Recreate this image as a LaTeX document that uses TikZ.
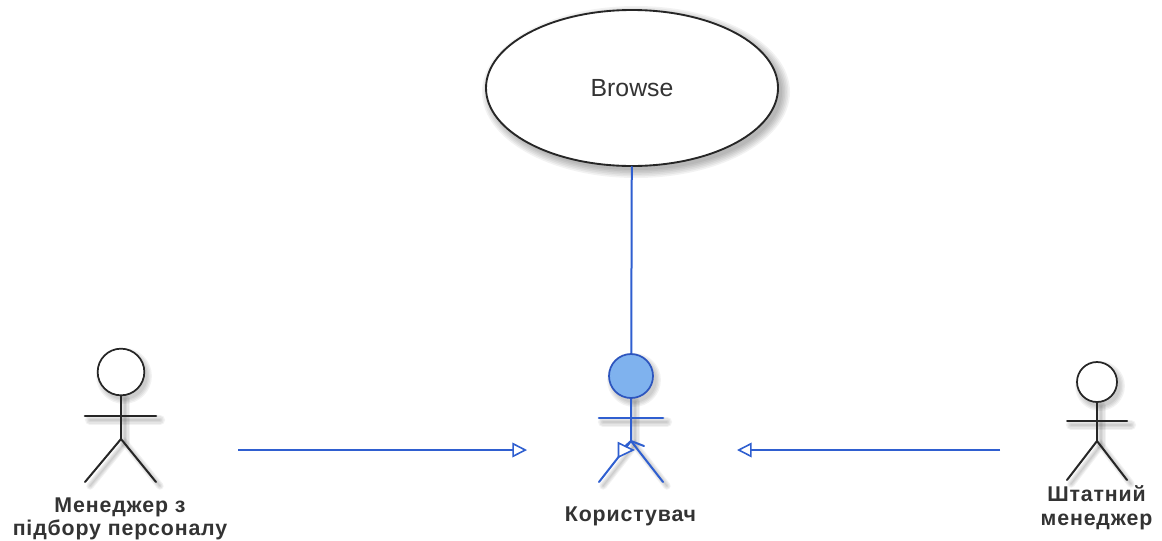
\documentclass[tikz,border=0pt]{standalone}
\usepackage{fontspec}
\setmainfont{Liberation Sans}
\newfontfamily\labelfont[LetterSpace=4,BoldFont={Liberation Sans Bold}]{Liberation Sans}
\usetikzlibrary{shapes.geometric,arrows.meta}
\definecolor{umlblue}{HTML}{2F5FD0}
\definecolor{headblue}{HTML}{7FB2EE}
\definecolor{headedge}{HTML}{2D55BE}
\definecolor{inkline}{HTML}{262626}
\definecolor{labelink}{HTML}{333333}
\tikzset{
  usecase/.style={ellipse,draw=inkline,line width=1.4pt,fill=white,minimum width=219pt,minimum height=117pt,inner sep=0pt,text=labelink,font=\fontsize{18.6}{21}\selectfont},
  headnode/.style={circle,line width=1.3pt,inner sep=0pt},
  limb/.style={line width=1.5pt,line cap=round},
  actorlabel/.style={align=center,text=labelink,font=\labelfont\bfseries\fontsize{16}{16.5}\selectfont,inner sep=0pt},
  gen/.style={umlblue,line width=1.5pt,-{Triangle[open,length=11pt,width=11pt,line width=1.2pt]}},
  softshadow/.style={black,opacity=0.05},
}
\newcommand{\actorshadow}[7]{%
  \foreach \w in {7,5,3,1}{
    \fill[softshadow] (#1+3,#2+4) circle[radius=#3+\w*0.7];
    \draw[softshadow,line width=\w*1.1pt,line cap=round] (#1-#4+4,#5+4) -- (#1+#4+4,#5+4);
    \draw[softshadow,line width=\w*1.1pt,line cap=round] (#1+4,#2+#3+4) -- (#1+4,#6+4);
    \draw[softshadow,line width=\w*0.8pt,line cap=round] (#1-#4+4,#7+4) -- (#1+4,#6+4) -- (#1+#4+4,#7+4);
  }%
}
\begin{document}
\begin{tikzpicture}[x=0.75pt,y=-0.75pt]
\useasboundingbox (0,0) rectangle (1162,540);
\fill[white] (0,0) rectangle (1162,540);

% shadows
\foreach \w in {10,8,6,4,2,0}{
  \fill[softshadow] (636,92) ellipse[x radius=146+\w*0.8,y radius=78+\w*0.8];
}
\actorshadow{121}{372}{23}{35}{416}{439}{482}
\actorshadow{631}{376}{22}{32}{418}{441}{482}
\actorshadow{1097}{382}{20}{30}{421}{441}{480}

% use case
\node[usecase] (browse) at (632,88) {Browse};

% left actor
\node[headnode,draw=inkline,fill=white,minimum size=35pt] (hrhead) at (121,372) {};
\coordinate (hrhip) at (121,439);
\coordinate (hrarml) at (85,416);
\coordinate (hrarmr) at (156,416);
\coordinate (hrfootl) at (85,482);
\coordinate (hrfootr) at (156,482);
\draw[limb,inkline] (hrhead) -- (hrhip);
\draw[limb,inkline,line width=1.9pt] (hrarml) -- (hrarmr);
\draw[limb,inkline] (hrfootl) -- (hrhip) -- (hrfootr);
\node[actorlabel] (hrlabel) at (120,519) {Менеджер з\\[0.5pt]підбору персоналу};

% middle actor
\coordinate (userhip) at (631,441);
\coordinate (userarml) at (599,418);
\coordinate (userarmr) at (663,418);
\coordinate (userfootl) at (599,482);
\coordinate (userfootr) at (663,482);
\draw[umlblue,limb] (browse) -- (userhip);
\draw[umlblue,limb,line width=2pt] (userarml) -- (userarmr);
\draw[umlblue,limb] (userfootl) -- (userhip) -- (userfootr);
\draw[umlblue,line width=1.5pt,line cap=round] (622,449) -- (userhip) -- (644,446);
\node[headnode,draw=headedge,fill=headblue,minimum size=33pt] (userhead) at (631,376) {};
\draw[umlblue,fill=white,line width=1.2pt,line join=miter] (618.5,443) -- (633,450) -- (618.5,457) -- cycle;
\node[actorlabel] (userlabel) at (630.5,516) {Користувач};

% right actor
\node[headnode,draw=inkline,fill=white,minimum size=30pt] (staffhead) at (1097,382) {};
\coordinate (staffhip) at (1097,441);
\coordinate (staffarml) at (1067,421);
\coordinate (staffarmr) at (1127,421);
\coordinate (stafffootl) at (1067,480);
\coordinate (stafffootr) at (1127,480);
\draw[limb,inkline] (staffhead) -- (staffhip);
\draw[limb,inkline] (staffarml) -- (staffarmr);
\draw[limb,inkline] (stafffootl) -- (staffhip) -- (stafffootr);
\node[actorlabel] (stafflabel) at (1096.5,507.5) {Штатний\\[1.5pt]менеджер};

% generalisations
\coordinate (hrout) at (238,450);
\coordinate (hrin) at (527,450);
\coordinate (staffout) at (1000,450);
\coordinate (staffin) at (737,450);
\draw[gen] (hrout) -- (hrin);
\draw[gen] (staffout) -- (staffin);
\end{tikzpicture}
\end{document}
